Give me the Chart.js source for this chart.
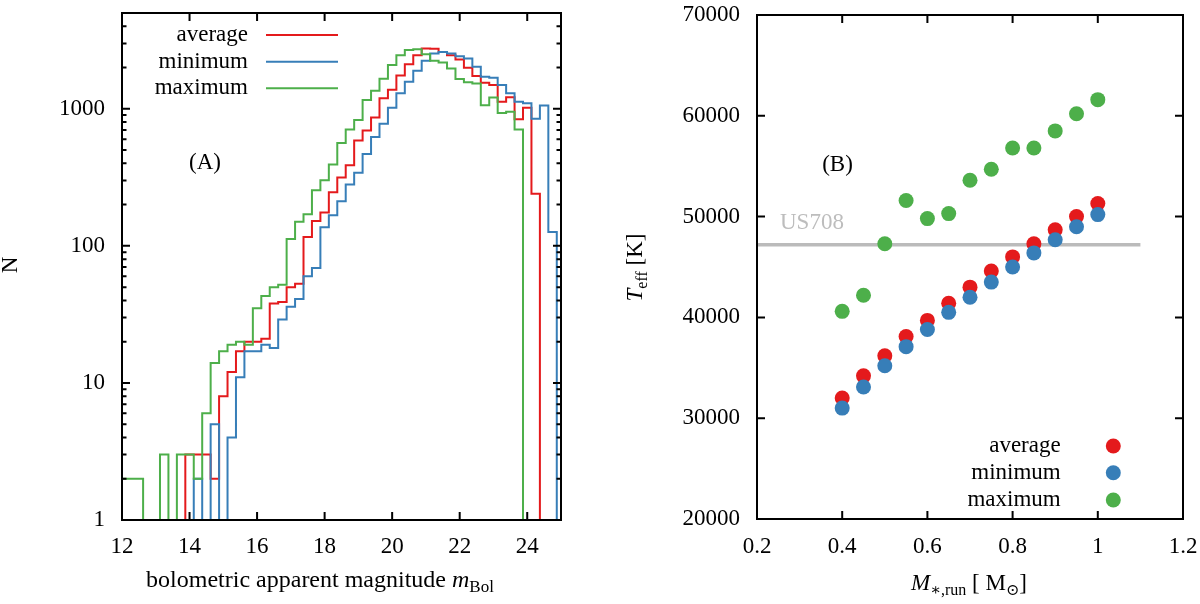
<!DOCTYPE html>
<html><head><meta charset="utf-8">
<script src="https://cdn.jsdelivr.net/npm/chart.js@4.4.1/dist/chart.umd.min.js"></script>
<style>
html,body{margin:0;padding:0;background:#fff;}
#wrap{position:relative;width:1200px;height:604px;overflow:hidden;}
canvas{position:absolute;top:0;}
#cA{left:0;} #cB{left:600px;}
</style></head><body>
<div id="wrap"><canvas id="cA" width="600" height="604"></canvas><canvas id="cB" width="600" height="604"></canvas></div>
<script>
// ---------- Panel (A): histogram of bolometric apparent magnitude ----------
const magCenters = [
  12.00,12.25,12.50,12.75,13.00,13.25,13.50,13.75,
  14.00,14.25,14.50,14.75,15.00,15.25,15.50,15.75,
  16.00,16.25,16.50,16.75,17.00,17.25,17.50,17.75,
  18.00,18.25,18.50,18.75,19.00,19.25,19.50,19.75,
  20.00,20.25,20.50,20.75,21.00,21.25,21.50,21.75,
  22.00,22.25,22.50,22.75,23.00,23.25,23.50,23.75,
  24.00,24.25,24.50,24.75,25.00
];
const binWidth = 0.25;
const nAverage = [
  0,0,0,0,0,0,0,0,
  3,3,3,2,8,12,17,20,
  20,21,38,39,50,53,116,152,
  175,246,316,387,587,695,863,1194,
  1380,1750,2118,2462,2756,2740,2602,2462,
  2291,1990,1734,1549,1492,1128,1214,840,
  1020,240,0,0,0
];
const nMinimum = [
  0,0,0,0,0,0,0,0,
  0,2,0,5,0,4,11,17,
  17,19,18,29,36,41,60,69,
  137,167,212,280,341,468,622,777,
  1020,1298,1577,1896,2239,2535,2602,2535,
  2422,2330,2025,1714,1686,1492,1298,1128,
  1097,845,1055,126,0
];
const nMaximum = [
  2,2,2,0,0,3,0,3,
  3,2,6,14,17,19,20,19,
  35,43,50,52,112,150,170,255,
  301,392,562,705,830,1161,1356,1657,
  2083,2456,2680,2720,2505,2239,2179,1971,
  1648,1559,1530,1060,1210,930,950,705,
  0,0,0,0,0
];
const xTicksA = [12,14,16,18,20,22,24];
const yTicksA = [1,10,100,1000];
const yMinorA = [2,3,4,5,6,7,8,9,20,30,40,50,60,70,80,90,200,300,400,500,600,700,800,900,2000,3000,4000,5000];

// ---------- Panel (B): Teff vs mass ----------
const masses = [0.40,0.45,0.50,0.55,0.60,0.65,0.70,0.75,0.80,0.85,0.90,0.95,1.00];
const teffAverage = [32000,34200,36200,38100,39700,41400,43000,44600,46000,47300,48700,50000,51300];
const teffMinimum = [31000,33100,35200,37100,38800,40500,42000,43500,45000,46400,47700,49000,50200];
const teffMaximum = [40600,42200,47300,51600,49800,50300,53600,54700,56800,56800,58500,60200,61600];
const us708Teff = 47200;
const us708Mass = [0.2, 1.1];
const xTicksB = [0.2,0.4,0.6,0.8,1.0,1.2];
const yTicksB = [20000,30000,40000,50000,60000,70000];

const seriesNames = ['average','minimum','maximum'];
const COLORS = {average:'#e41a1c', minimum:'#377eb8', maximum:'#4daf4a'};
const FAMILY = '"Liberation Serif","Times New Roman","DejaVu Serif",serif';
const FS = 23, SUB = 16, SUBDY = 5;

function font(size, it){ return (it?'italic ':'') + size + 'px ' + FAMILY; }
function drawRich(ctx, parts, x, y, align, fs){
  const big = fs || FS, small = Math.round(big * 0.7);
  let w = 0;
  const ws = parts.map(p => { ctx.font = font(p.sub?small:big, p.it); const pw = ctx.measureText(p.t).width; w += pw; return pw; });
  let cx = align==='center' ? x - w/2 : (align==='right' ? x - w : x);
  ctx.textAlign = 'left'; ctx.textBaseline = 'alphabetic';
  parts.forEach((p,i) => { ctx.font = font(p.sub?small:big, p.it); ctx.fillText(p.t, cx, y + (p.sub?SUBDY:0)); cx += ws[i]; });
}
function drawFrameTicks(chart, xMajor, yMajor, yMinor){
  const ctx = chart.ctx, ca = chart.chartArea, xs = chart.scales.x, ys = chart.scales.y;
  ctx.save();
  ctx.strokeStyle = '#000'; ctx.lineWidth = 2;
  ctx.beginPath();
  const L = 8, Lm = 4.5;
  xMajor.forEach(v => { const p = xs.getPixelForValue(v);
    ctx.moveTo(p, ca.bottom); ctx.lineTo(p, ca.bottom - L);
    ctx.moveTo(p, ca.top); ctx.lineTo(p, ca.top + L); });
  yMajor.forEach(v => { const p = ys.getPixelForValue(v);
    ctx.moveTo(ca.left, p); ctx.lineTo(ca.left + L, p);
    ctx.moveTo(ca.right, p); ctx.lineTo(ca.right - L, p); });
  (yMinor||[]).forEach(v => { const p = ys.getPixelForValue(v);
    ctx.moveTo(ca.left, p); ctx.lineTo(ca.left + Lm, p);
    ctx.moveTo(ca.right, p); ctx.lineTo(ca.right - Lm, p); });
  ctx.stroke();
  ctx.strokeRect(ca.left, ca.top, ca.right - ca.left, ca.bottom - ca.top);
  ctx.restore();
}
function noPad(s){ s.paddingTop = 0; s.paddingBottom = 0; s.paddingLeft = 0; s.paddingRight = 0; }

function stepData(counts){
  const pts = magCenters.map((c,i) => ({x: c - binWidth/2, y: counts[i] > 0 ? counts[i] : 0.3}));
  pts.push({x: magCenters[magCenters.length-1] + binWidth/2, y: 0.3});
  return pts;
}
const histSeries = {average:nAverage, minimum:nMinimum, maximum:nMaximum};
const orderOf = {average:3, minimum:2, maximum:1};

const tickFont = {family: FAMILY, size: FS};

const pluginA = {
  id: 'panelA',
  afterDraw(chart){
    drawFrameTicks(chart, xTicksA, yTicksA, yMinorA);
    const ctx = chart.ctx;
    ctx.save();
    ctx.fillStyle = '#000';
    const rows = [35, 61.7, 88.3];
    seriesNames.forEach((n,i) => {
      ctx.fillStyle = '#000';
      ctx.font = font(FS,false); ctx.textAlign = 'right'; ctx.textBaseline = 'middle';
      ctx.fillText(n, 248, rows[i]);
      ctx.strokeStyle = COLORS[n]; ctx.lineWidth = 2;
      ctx.beginPath(); ctx.moveTo(266, rows[i]); ctx.lineTo(338, rows[i]); ctx.stroke();
    });
    ctx.fillStyle = '#000';
    ctx.font = font(FS,false); ctx.textAlign = 'center'; ctx.textBaseline = 'middle';
    ctx.fillText('(A)', 205, 163);
    drawRich(ctx, [{t:'bolometric apparent magnitude '},{t:'m',it:true},{t:'Bol',sub:true}], 320, 587, 'center', 24);
    ctx.save(); ctx.translate(17, 265); ctx.rotate(-Math.PI/2);
    drawRich(ctx, [{t:'N'}], 0, 0, 'center');
    ctx.restore();
    ctx.restore();
  }
};

new Chart(document.getElementById('cA'), {
  type: 'line',
  data: {
    datasets: seriesNames.map(n => ({
      label: n, data: stepData(histSeries[n]), borderColor: COLORS[n], borderWidth: 2,
      pointRadius: 0, fill: false, stepped: 'before', tension: 0, order: orderOf[n]
    }))
  },
  options: {
    responsive: false, animation: false, devicePixelRatio: 1, events: [],
    layout: {padding: {top: 13, right: 39, left: 0, bottom: 0}},
    plugins: {legend: {display: false}, tooltip: {enabled: false}},
    scales: {
      x: {type: 'linear', min: 12, max: 25,
        afterBuildTicks: s => { s.ticks = xTicksA.map(v => ({value: v})); },
        afterFit: s => { s.height = 84; noPad(s); },
        ticks: {font: tickFont, color: '#000', padding: 13, maxRotation: 0, autoSkip: false, callback: v => String(v)},
        grid: {display: false, drawTicks: false}, border: {display: false}},
      y: {type: 'logarithmic', min: 1, max: 5000,
        afterBuildTicks: s => { s.ticks = yTicksA.map(v => ({value: v})); },
        afterFit: s => { s.width = 122; noPad(s); },
        ticks: {font: tickFont, color: '#000', padding: 17, autoSkip: false, callback: v => String(v)},
        grid: {display: false, drawTicks: false}, border: {display: false}}
    }
  },
  plugins: [pluginA]
});

// ---------- Panel B ----------
const teffSeries = {average:teffAverage, minimum:teffMinimum, maximum:teffMaximum};
const pluginB = {
  id: 'panelB',
  afterDraw(chart){
    drawFrameTicks(chart, xTicksB, yTicksB, null);
    const ctx = chart.ctx;
    ctx.save();
    const rows = [446, 472.7, 500];
    seriesNames.forEach((n,i) => {
      ctx.fillStyle = '#000';
      ctx.font = font(FS,false); ctx.textAlign = 'right'; ctx.textBaseline = 'middle';
      ctx.fillText(n, 460.7, rows[i]);
      ctx.fillStyle = COLORS[n];
      ctx.beginPath(); ctx.arc(513.3, rows[i], 7.5, 0, Math.PI*2); ctx.fill();
    });
    ctx.fillStyle = '#000';
    ctx.font = font(FS,false); ctx.textAlign = 'center'; ctx.textBaseline = 'middle';
    ctx.fillText('(B)', 237.5, 165);
    ctx.fillStyle = '#bdbdbd'; ctx.textAlign = 'left';
    ctx.fillText('US708', 180, 223);
    ctx.fillStyle = '#000';
    drawRich(ctx, [{t:'M',it:true},{t:'\u2217,run',sub:true},{t:' [ M'},{t:'\u2299',sub:true},{t:']'}], 369, 590, 'center');
    ctx.save(); ctx.translate(42, 267.5); ctx.rotate(-Math.PI/2);
    drawRich(ctx, [{t:'T',it:true},{t:'eff',sub:true},{t:' [K]'}], 0, 0, 'center');
    ctx.restore();
    ctx.restore();
  }
};

const dsB = seriesNames.map(n => ({
  type: 'scatter', label: n, data: masses.map((m,i) => ({x: m, y: teffSeries[n][i]})),
  backgroundColor: COLORS[n], borderWidth: 0, pointRadius: 7.5, order: orderOf[n]
}));
dsB.push({
  type: 'line', label: 'US708', data: us708Mass.map(m => ({x: m, y: us708Teff})),
  borderColor: '#bbbbbb', borderWidth: 3.5, pointRadius: 0, order: 5
});

new Chart(document.getElementById('cB'), {
  type: 'scatter',
  data: {datasets: dsB},
  options: {
    responsive: false, animation: false, devicePixelRatio: 1, events: [],
    layout: {padding: {top: 15, right: 17, left: 0, bottom: 0}},
    plugins: {legend: {display: false}, tooltip: {enabled: false}},
    scales: {
      x: {type: 'linear', min: 0.2, max: 1.2,
        afterBuildTicks: s => { s.ticks = xTicksB.map(v => ({value: v})); },
        afterFit: s => { s.height = 85; noPad(s); },
        ticks: {font: tickFont, color: '#000', padding: 14, maxRotation: 0, autoSkip: false, callback: v => String(+(+v).toFixed(1))},
        grid: {display: false, drawTicks: false}, border: {display: false}},
      y: {type: 'linear', min: 20000, max: 70000,
        afterBuildTicks: s => { s.ticks = yTicksB.map(v => ({value: v})); },
        afterFit: s => { s.width = 157; noPad(s); },
        ticks: {font: tickFont, color: '#000', padding: 17, autoSkip: false, callback: v => String(v)},
        grid: {display: false, drawTicks: false}, border: {display: false}}
    }
  },
  plugins: [pluginB]
});
</script>
</body></html>
